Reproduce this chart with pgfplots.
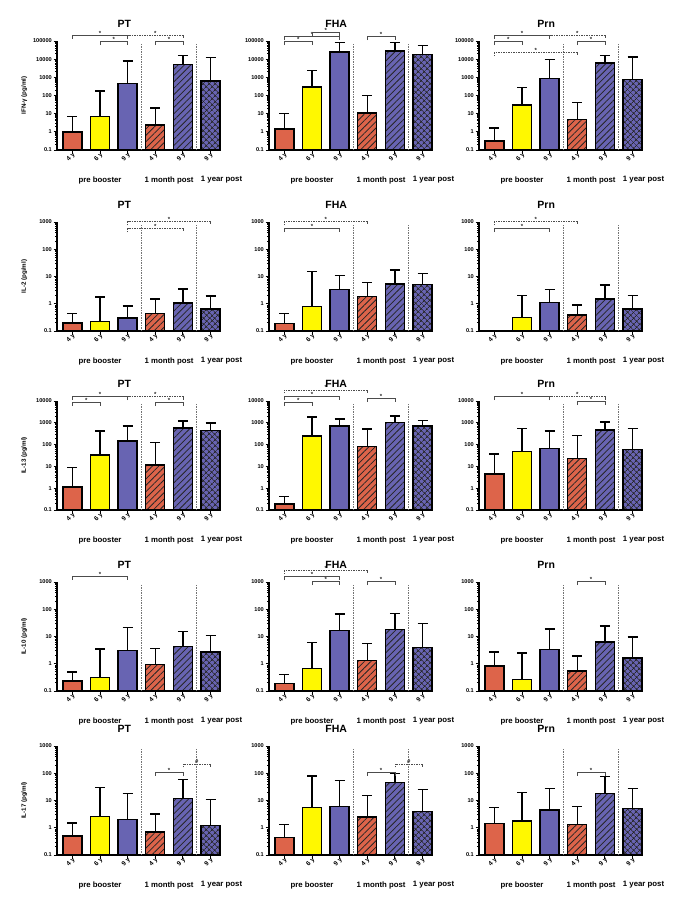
\documentclass[border=0pt]{standalone}
\usepackage{fontspec}
\setmainfont{Liberation Sans}
\usepackage{pgfplots}
\pgfplotsset{compat=1.18}
\usetikzlibrary{patterns,patterns.meta}
\definecolor{corange}{RGB}{221,100,74}
\definecolor{cyellow}{RGB}{255,248,0}
\definecolor{cpurple}{RGB}{104,100,178}
\tikzset{
 mybrk/.style={draw=black!70, line width=0.6pt},
 mydsh/.style={dash pattern=on 1.5pt off 1pt},
 mystar/.style={font=\fontsize{6}{6}\selectfont\bfseries, inner sep=0pt, anchor=base, text=black!85},
 mysep/.style={draw=black!55, line width=0.5pt, dash pattern=on 1.5pt off 1pt},
 mygrp/.style={font=\fontsize{7.8}{9}\selectfont\bfseries, inner sep=0pt},
}
\pgfplotsset{
 every axis/.append style={
  scale only axis, width=164pt, height=109pt, anchor=south west,
  ymode=log, log origin y=infty, ymin=0.1,
  xmin=-0.56, xmax=5.38,
  axis x line*=bottom, axis y line*=left,
  axis line style={line width=1.8pt,-},
  xtick={0,1,2,3,4,5}, xticklabels={4 y,6 y,9 y,4 y,9 y,9 y},
  xticklabel style={rotate=45, anchor=east, font=\fontsize{6.4}{7}\selectfont\bfseries, inner sep=1pt, yshift=-1.5pt, xshift=2pt},
  yticklabel style={font=\fontsize{5.6}{6}\selectfont\bfseries, inner sep=1.5pt},
  tick align=outside, major tick length=3.5pt, minor tick length=2pt,
  tick style={black, line width=1pt},
  clip=false,
  error bars/y dir=plus, error bars/y explicit,
  error bars/error bar style={line width=1.5pt, black, solid},
  error bars/error mark options={rotate=90, line width=1.5pt, black, mark size=5pt, solid},
  title style={at={(axis description cs:0.41,1)}, anchor=center, yshift=11.5pt, font=\fontsize{10.5}{12}\selectfont\bfseries},
  ylabel style={at={(axis description cs:-0.2,0.5)}, anchor=center, font=\fontsize{6.2}{7}\selectfont\bfseries},
 },
 myrA/.style={ymax=100000, ytick={0.1,1,10,100,1000,10000,100000}, yticklabels={0.1,1,10,100,1000,10000,100000},
  minor ytick={0.2,0.3,0.4,0.5,0.6,0.7,0.8,0.9,2,3,4,5,6,7,8,9,20,30,40,50,60,70,80,90,200,300,400,500,600,700,800,900,2000,3000,4000,5000,6000,7000,8000,9000,20000,30000,40000,50000,60000,70000,80000,90000}},
 myrB/.style={ymax=1000, ytick={0.1,1,10,100,1000}, yticklabels={0.1,1,10,100,1000},
  minor ytick={0.2,0.3,0.4,0.5,0.6,0.7,0.8,0.9,2,3,4,5,6,7,8,9,20,30,40,50,60,70,80,90,200,300,400,500,600,700,800,900}},
 myrC/.style={ymax=10000, ytick={0.1,1,10,100,1000,10000}, yticklabels={0.1,1,10,100,1000,10000},
  minor ytick={0.2,0.3,0.4,0.5,0.6,0.7,0.8,0.9,2,3,4,5,6,7,8,9,20,30,40,50,60,70,80,90,200,300,400,500,600,700,800,900,2000,3000,4000,5000,6000,7000,8000,9000}},
 mysb/.style={ybar, bar width=19pt, bar shift=0pt, draw=black, line width=1.4pt},
 mys0/.style={mysb, fill=corange},
 mys1/.style={mysb, fill=cyellow},
 mys2/.style={mysb, fill=cpurple},
 mys3/.style={mysb, fill=corange, postaction={pattern={Lines[angle=45,distance=4.5pt,line width=0.8pt]}, pattern color=black!85}},
 mys4/.style={mysb, fill=cpurple, postaction={pattern={Lines[angle=45,distance=4.5pt,line width=0.8pt]}, pattern color=black!85}},
 mys5/.style={mysb, fill=cpurple, postaction={pattern={Hatch[angle=45,distance=4pt,line width=0.7pt]}, pattern color=black!85}},
}
\newcommand{\B}[4]{\addplot[mys#1] coordinates {(#2,#3) +- (0,#4)};}
\newcommand{\brk}[6][]{\draw[mybrk,#1] (axis cs:#2,#4) ++(0pt,-3.5pt) -- (axis cs:#2,#4) -- (axis cs:#3,#4) -- ++(0pt,-3.5pt); \node[mystar] at (axis cs:#5,#4) {#6};}
\newcommand{\decor}{%
 \draw[mysep] (rel axis cs:0.5118,0) -- (rel axis cs:0.5118,0.97);
 \draw[mysep] (rel axis cs:0.8485,0) -- (rel axis cs:0.8485,0.97);
 \node[mygrp, yshift=-30pt] at (axis cs:1,0.1) {pre booster};
 \node[mygrp, yshift=-30pt] at (axis cs:3.5,0.1) {1 month post};
 \node[mygrp, yshift=-30pt] at (axis cs:5.4,0.1) {1 year post};
}
\begin{document}
\begin{tikzpicture}
\path[use as bounding box] (0,0) rectangle (684pt,-924pt);
% ---------- Row 1: IFN-gamma ----------
\begin{axis}[myrA,at={(57pt,-150pt)},ylabel={IFN-γ (pg/ml)},title={PT}]
\B{0}{0}{1.0}{5.8} \B{1}{1}{6.8}{173} \B{2}{2}{460}{7540} \B{3}{3}{2.4}{18.6} \B{4}{4}{5200}{10800} \B{5}{5}{640}{11360}
\decor
\brk{0}{2}{2.14e5}{1}{*} \brk{1}{2}{9.2e4}{1.5}{*} \brk[mydsh]{2}{4}{2.14e5}{3}{*} \brk{3}{4}{9.2e4}{3.5}{*}
\end{axis}
\begin{axis}[myrA,at={(269pt,-150pt)},title={FHA}]
\B{0}{0}{1.4}{8.6} \B{1}{1}{300}{2100} \B{2}{2}{25000}{60000} \B{3}{3}{11}{89} \B{4}{4}{28000}{57000} \B{5}{5}{18500}{39500}
\decor
\brk{0}{1}{9.2e4}{0.5}{*} \brk{0}{2}{1.72e5}{1}{*} \brk{1}{2}{3.0e5}{1.5}{*} \brk{3}{4}{1.72e5}{3.5}{*}
\end{axis}
\begin{axis}[myrA,at={(479pt,-150pt)},title={Prn}]
\B{0}{0}{0.32}{1.28} \B{1}{1}{30}{245} \B{2}{2}{850}{8650} \B{3}{3}{4.9}{35.1} \B{4}{4}{6200}{9800} \B{5}{5}{760}{12240}
\decor
\brk{0}{1}{9.2e4}{0.5}{*} \brk{0}{2}{2.14e5}{1}{*} \brk[mydsh]{2}{4}{2.14e5}{3}{*} \brk{3}{4}{9.2e4}{3.5}{*} \brk[mydsh]{0}{3}{2.27e4}{1.5}{*}
\end{axis}
% ---------- Row 2: IL-2 ----------
\begin{axis}[myrB,at={(57pt,-331pt)},ylabel={IL-2 (pg/ml)},title={PT}]
\B{0}{0}{0.195}{0.235} \B{1}{1}{0.22}{1.58} \B{2}{2}{0.30}{0.51} \B{3}{3}{0.43}{1.07} \B{4}{4}{1.05}{2.45} \B{5}{5}{0.65}{1.25}
\decor
\brk[mydsh]{2}{5}{1020}{3.5}{*} \brk[mydsh]{2}{4}{570}{3}{*}
\end{axis}
\begin{axis}[myrB,at={(269pt,-331pt)},title={FHA}]
\B{0}{0}{0.19}{0.24} \B{1}{1}{0.81}{14.2} \B{2}{2}{3.3}{7.7} \B{3}{3}{1.8}{4.1} \B{4}{4}{5.3}{11.7} \B{5}{5}{5.0}{8}
\decor
\brk[mydsh]{0}{3}{1020}{1.5}{*} \brk{0}{2}{570}{1}{*}
\end{axis}
\begin{axis}[myrB,at={(479pt,-331pt)},title={Prn}]
\addplot[mys0, error bars/y dir=none] coordinates {(0,0.105)};
\B{1}{1}{0.32}{1.68} \B{2}{2}{1.13}{2.27} \B{3}{3}{0.39}{0.52} \B{4}{4}{1.5}{3.3} \B{5}{5}{0.65}{1.35}
\decor
\brk[mydsh]{0}{3}{1020}{1.5}{*} \brk{0}{2}{570}{1}{*}
\end{axis}
% ---------- Row 3: IL-13 ----------
\begin{axis}[myrC,at={(57pt,-510pt)},ylabel={IL-13 (pg/ml)},title={PT}]
\B{0}{0}{1.15}{7.75} \B{1}{1}{33}{382} \B{2}{2}{145}{575} \B{3}{3}{11.7}{110} \B{4}{4}{590}{590} \B{5}{5}{430}{570}
\decor
\brk{0}{2}{1.57e4}{1}{*} \brk[mydsh]{2}{4}{1.57e4}{3}{*} \brk{0}{1}{8400}{0.5}{*} \brk{3}{4}{8400}{3.5}{*}
\end{axis}
\begin{axis}[myrC,at={(269pt,-510pt)},title={FHA}]
\B{0}{0}{0.19}{0.22} \B{1}{1}{245}{1605} \B{2}{2}{700}{800} \B{3}{3}{80}{430} \B{4}{4}{1030}{1070} \B{5}{5}{720}{550}
\decor
\brk[mydsh]{0}{3}{3.2e4}{1.5}{*} \brk{0}{2}{1.57e4}{1}{*} \brk{0}{1}{8400}{0.5}{*} \brk{3}{4}{1.37e4}{3.5}{*}
\end{axis}
\begin{axis}[myrC,at={(479pt,-510pt)},title={Prn}]
\B{0}{0}{4.5}{33.5} \B{1}{1}{47}{498} \B{2}{2}{65}{350} \B{3}{3}{23}{240} \B{4}{4}{460}{640} \B{5}{5}{60}{485}
\decor
\brk{0}{2}{1.57e4}{1}{*} \brk[mydsh]{2}{4}{1.57e4}{3}{*} \brk{3}{4}{9300}{3.5}{*}
\end{axis}
% ---------- Row 4: IL-10 ----------
\begin{axis}[myrB,at={(57pt,-691pt)},ylabel={IL-10 (pg/ml)},title={PT}]
\B{0}{0}{0.23}{0.27} \B{1}{1}{0.32}{3.18} \B{2}{2}{3.0}{18} \B{3}{3}{0.95}{2.75} \B{4}{4}{4.4}{10.6} \B{5}{5}{2.7}{8.3}
\decor
\brk{0}{2}{1660}{1}{*}
\end{axis}
\begin{axis}[myrB,at={(269pt,-691pt)},title={FHA}]
\B{0}{0}{0.19}{0.22} \B{1}{1}{0.68}{5.32} \B{2}{2}{17}{49} \B{3}{3}{1.3}{4.2} \B{4}{4}{18}{53} \B{5}{5}{4.0}{26}
\decor
\brk[mydsh]{0}{3}{2600}{1.5}{*} \brk{0}{2}{1570}{1}{*} \brk{1}{2}{1025}{1.5}{*} \brk{3}{4}{1025}{3.5}{*}
\end{axis}
\begin{axis}[myrB,at={(479pt,-691pt)},title={Prn}]
\B{0}{0}{0.82}{1.88} \B{1}{1}{0.27}{2.23} \B{2}{2}{3.3}{15.7} \B{3}{3}{0.55}{1.35} \B{4}{4}{6.2}{17.8} \B{5}{5}{1.65}{8.05}
\decor
\brk{3}{4}{1025}{3.5}{*}
\end{axis}
% ---------- Row 5: IL-17 ----------
\begin{axis}[myrB,at={(57pt,-855pt)},ylabel={IL-17 (pg/ml)},title={PT}]
\B{0}{0}{0.5}{1.0} \B{1}{1}{2.6}{27.4} \B{2}{2}{2.0}{16} \B{3}{3}{0.7}{2.5} \B{4}{4}{12}{48} \B{5}{5}{1.2}{9.8}
\decor
\brk{3}{4}{111}{3.5}{*} \brk[mydsh]{4}{5}{219}{4.5}{\#}
\end{axis}
\begin{axis}[myrB,at={(269pt,-855pt)},title={FHA}]
\B{0}{0}{0.45}{0.85} \B{1}{1}{5.5}{74.5} \B{2}{2}{6}{49} \B{3}{3}{2.5}{12.5} \B{4}{4}{45}{55} \B{5}{5}{4}{21}
\decor
\brk{3}{4}{111}{3.5}{*} \brk[mydsh]{4}{5}{219}{4.5}{\#}
\end{axis}
\begin{axis}[myrB,at={(479pt,-855pt)},title={Prn}]
\B{0}{0}{1.4}{4.1} \B{1}{1}{1.8}{18.2} \B{2}{2}{4.5}{23.5} \B{3}{3}{1.3}{4.7} \B{4}{4}{18}{57} \B{5}{5}{5}{23}
\decor
\brk{3}{4}{111}{3.5}{*}
\end{axis}
\end{tikzpicture}
\end{document}
